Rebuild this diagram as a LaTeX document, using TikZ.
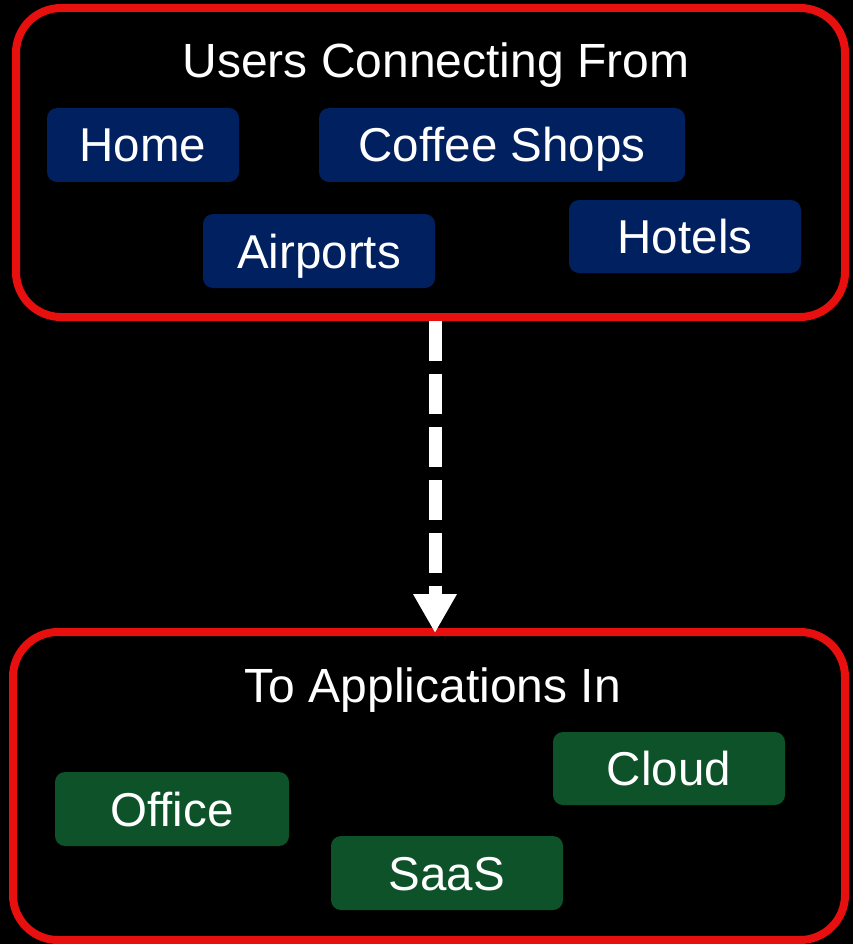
\documentclass[tikz,border=0pt]{standalone}
\usepackage{fontspec}
\setmainfont{Liberation Sans}
\usetikzlibrary{arrows.meta}
\definecolor{framered}{RGB}{232,16,14}
\definecolor{chipblue}{RGB}{0,32,96}
\definecolor{chipgreen}{RGB}{14,82,41}
\begin{document}
\begin{tikzpicture}[x=1pt,y=-1pt,
  frame/.style={draw=framered,line width=8pt,rounded corners=45pt,inner sep=0pt},
  chip/.style={rounded corners=10pt,inner sep=0pt,text=white,minimum width=232pt,minimum height=74pt,
    text height=34pt,text depth=0pt,font=\fontsize{47.5}{56}\selectfont},
  bluechip/.style={chip,fill=chipblue},
  greenchip/.style={chip,fill=chipgreen},
  title/.style={text=white,inner sep=0pt,text height=34pt,text depth=0pt,font=\fontsize{48}{56}\selectfont},
  flow/.style={draw=white,line width=13pt,dash pattern=on 40pt off 13pt,
    -{Triangle[width=41pt,length=39pt]}}]
\fill[black] (0,0) rectangle (853,944);
\useasboundingbox (0,0) rectangle (853,944);
% frames
\node[frame,minimum width=829pt,minimum height=309pt] (top) at (430.5,162.5) {};
\node[frame,minimum width=832pt,minimum height=308pt] (bot) at (429,786) {};
% titles
\node[title] (t1) at (436,60.5) {Users Connecting From};
\node[title] (t2) at (433,685.5) {To Applications In};
% blue chips
\node[bluechip,minimum width=192pt] (home) at (143,145) {Home};
\node[bluechip,minimum width=366pt] (coffee) at (502,145) {Coffee Shops};
\node[bluechip] (air) at (319,251) {Airports};
\node[bluechip,minimum height=73pt] (hotel) at (685,236.5) {Hotels};
% green chips
\node[greenchip,minimum width=234pt] (office) at (172,809) {Office};
\node[greenchip,minimum height=73pt] (cloud) at (669,768.5) {Cloud};
\node[greenchip] (saas) at (447,873) {SaaS};
% arrow
\coordinate (ax) at (435,0);
\coordinate (tipend) at ([yshift=-5pt]bot.north -| ax);
\draw[flow] (top.south -| ax) -- (tipend);
\end{tikzpicture}
\end{document}
